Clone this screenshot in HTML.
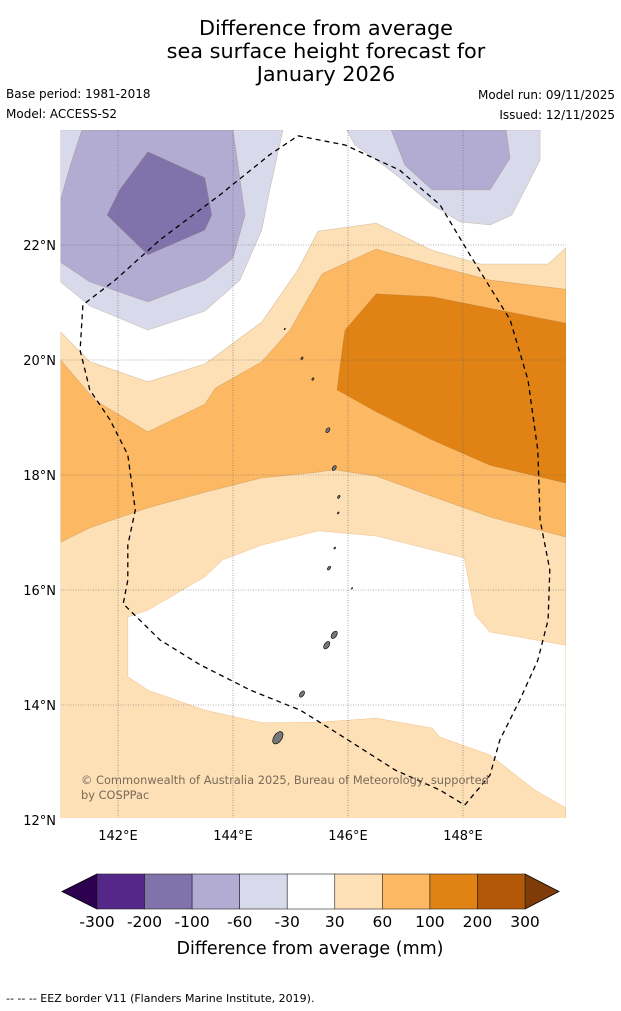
<!DOCTYPE html>
<html><head><meta charset="utf-8"><style>
body{margin:0;background:#fff;font-family:"DejaVu Sans",sans-serif;}
svg{display:block}
</style></head><body>
<svg width="621" height="1011" viewBox="0 0 621 1011" font-family="DejaVu Sans, sans-serif">
<g font-size="20.8" text-anchor="middle" fill="#000">
<text x="326" y="35">Difference from average</text>
<text x="326" y="58">sea surface height forecast for</text>
<text x="326" y="81">January 2026</text>
</g>
<g font-size="12" fill="#000">
<text x="6" y="98">Base period: 1981-2018</text>
<text x="6" y="118">Model: ACCESS-S2</text>
<text x="615" y="99" text-anchor="end">Model run: 09/11/2025</text>
<text x="615" y="119" text-anchor="end">Issued: 12/11/2025</text>
</g>
<defs><clipPath id="mapclip"><rect x="60.5" y="130" width="505.5" height="688"/></clipPath></defs>
<g id="map" clip-path="url(#mapclip)"></g>
<g id="axes"></g>
<g id="cbar"></g>
<text x="310" y="954" font-size="17.5" text-anchor="middle">Difference from average (mm)</text>
<text x="6" y="1002" font-size="11">--  --  -- EEZ border V11 (Flanders Marine Institute, 2019).</text>
</svg>
<script>
const lonTicks=[142,144,146,148];
const latTicks=[12,14,16,18,20,22];
const cbLevels=[-300,-200,-100,-60,-30,30,60,100,200,300];
const cbColors=['#542788','#8073ac','#b2abd2','#d8daeb','#ffffff','#fee0b6','#fdb863','#e08214','#b35806'];
const cbExtLow='#2d0050', cbExtHigh='#7f3b08';
const lonMin=141, lonMax=149.79, latMin=12, latMax=24;
const X=lon=>60.5+(lon-lonMin)*57.5;
const Y=lat=>130+(latMax-lat)*57.5;
const orange30=[[141,20.49],[141.51,19.97],[142.52,19.62],[143.51,19.93],[144.5,20.66],[145.13,21.57],[145.48,22.24],[146.49,22.38],[147.46,21.91],[148.3,21.67],[149.48,21.67],[149.79,21.95],[149.79,12],[141,12]];
const whiteIsland=[[142.17,15.53],[142.52,15.65],[143.51,16.23],[143.81,16.52],[144.5,16.78],[145.48,17.03],[146.49,16.94],[148.02,16.56],[148.21,15.57],[148.47,15.27],[149.79,15.04],[149.79,12.21],[149.25,12.52],[148.47,13.13],[147.6,13.44],[147.46,13.6],[146.49,13.77],[145.48,13.7],[144.5,13.69],[143.51,13.91],[142.52,14.26],[142.17,14.49]];
const orange60=[[141,20],[141.6,19.3],[142.52,18.75],[143.51,19.23],[143.69,19.51],[144.5,19.97],[144.99,20.52],[145.55,21.5],[146.49,21.93],[147.46,21.65],[148.47,21.39],[149.79,21.23],[149.79,16.92],[148.47,17.27],[147.46,17.63],[146.49,17.98],[145.76,18.09],[145.48,18.05],[144.5,17.95],[143.51,17.7],[142.52,17.43],[141.51,17.08],[141,16.83]];
const orange100=[[145.95,20.52],[146.49,21.15],[147.46,21.1],[148.47,20.9],[149.79,20.64],[149.79,17.86],[148.47,18.17],[147.46,18.61],[146.49,19.1],[145.81,19.48],[145.91,20.26]];
const purple30a=[[141,24],[144.87,24],[144.64,22.96],[144.5,22.26],[144.12,21.39],[143.51,20.85],[142.52,20.52],[141.51,20.94],[141,21.36]];
const purple30b=[[145.98,24],[149.34,24],[149.34,23.48],[148.85,22.52],[148.47,22.35],[147.95,22.4],[147.46,22.7],[146.9,23.17],[146.49,23.48],[146.12,23.74]];
const purple60a=[[141.37,24],[144,24],[144.21,22.52],[144,21.77],[143.51,21.39],[142.52,21.01],[141.51,21.36],[141,21.7],[141,22.78],[141.17,23.39]];
const purple60b=[[146.75,24],[148.75,24],[148.82,23.51],[148.47,22.96],[147.46,22.96],[146.99,23.39]];
const purple100=[[142.52,23.62],[143.51,23.17],[143.63,22.52],[143.51,22.26],[142.52,21.83],[141.81,22.52],[142.03,22.96]];
const eez=[[145.13,23.9],[145.95,23.74],[146.9,23.3],[147.6,22.7],[148.12,21.83],[148.82,20.7],[149.13,19.65],[149.3,18.43],[149.34,17.22],[149.51,16.35],[149.48,15.48],[149.3,14.78],[148.99,14.09],[148.64,13.39],[148.47,12.78],[148.03,12.26],[147.6,12.52],[146.82,12.87],[145.86,13.48],[145.17,13.91],[144.3,14.26],[143.43,14.7],[142.73,15.13],[142.09,15.76],[142.17,16.17],[142.17,16.78],[142.3,17.39],[142.17,18.35],[141.86,18.96],[141.51,19.48],[141.34,20.17],[141.39,20.96],[141.95,21.39],[142.73,22.09],[143.77,22.87],[144.64,23.57],[145.13,23.9]];
const islandLon=[144.78,145.2,145.63,145.76,145.2,145.39,145.65,145.76,145.84,145.83,145.77,145.67,146.07,144.9];
const islandLat=[13.43,14.19,15.04,15.22,20.03,19.67,18.78,18.12,17.62,17.34,16.73,16.38,16.03,20.54];
const islandR=[5,2.5,3,3,1,1,2,2,1.2,0.8,0.8,1.5,0.6,0.6];
const NS='http://www.w3.org/2000/svg';
function mk(tag,attrs,parent){const e=document.createElementNS(NS,tag);for(const k in attrs)e.setAttribute(k,attrs[k]);parent.appendChild(e);return e;}
const map=document.getElementById('map');
mk('rect',{x:60.5,y:130,width:505.5,height:688,fill:'#fff'},map);
function poly(pts,fill,name){const p=mk('polygon',{points:pts.map(q=>X(q[0]).toFixed(1)+','+Y(q[1]).toFixed(1)).join(' '),fill:fill,stroke:fill==='#ffffff'?'#f3c89a':'rgba(150,110,60,0.35)','stroke-width':0.6},map);

}
poly(orange30,'#fee0b6','contour-30-60');
poly(whiteIsland,'#ffffff','contour-neutral');
poly(orange60,'#fdb863','contour-60-100');
poly(orange100,'#e08214','contour-100-200');
poly(purple30a,'#d8daeb','contour-neg30-a');
poly(purple30b,'#d8daeb','contour-neg30-b');
poly(purple60a,'#b2abd2','contour-neg60-a');
poly(purple60b,'#b2abd2','contour-neg60-b');
poly(purple100,'#8073ac','contour-neg100');
lonTicks.forEach(l=>{const g=mk('line',{x1:X(l),x2:X(l),y1:130,y2:818,stroke:'#666','stroke-width':0.6,'stroke-dasharray':'1,1.5'},map);

});
latTicks.forEach(l=>{const g=mk('line',{x1:60.5,x2:566,y1:Y(l),y2:Y(l),stroke:'#666','stroke-width':0.6,'stroke-dasharray':'1,1.5'},map);

});
islandLon.forEach((lo,i)=>{const e=mk('ellipse',{cx:X(lo),cy:Y(islandLat[i]),rx:islandR[i]*0.8,ry:islandR[i]*1.4,fill:'#777',stroke:'#000','stroke-width':0.6,transform:`rotate(35 ${X(lo)} ${Y(islandLat[i])})`},map);

});
const ez=mk('polyline',{points:eez.map(q=>X(q[0]).toFixed(1)+','+Y(q[1]).toFixed(1)).join(' '),fill:'none',stroke:'#000','stroke-width':1.3,'stroke-dasharray':'5,4'},map);


const cr=mk('text',{x:81,y:784,'font-size':11.4,fill:'#7a6a5a'},map);cr.textContent='© Commonwealth of Australia 2025, Bureau of Meteorology, supported';


const cr2=mk('text',{x:81,y:799,'font-size':11.4,fill:'#7a6a5a'},map);cr2.textContent='by COSPPac';


const axes=document.getElementById('axes');
lonTicks.forEach(l=>{const t=mk('text',{x:X(l),y:840,'font-size':13,'text-anchor':'middle'},axes);t.textContent=l+'°E';

});
latTicks.forEach(l=>{const t=mk('text',{x:56,y:Y(l)+5,'font-size':13,'text-anchor':'end'},axes);t.textContent=l+'°N';

});
const cb=document.getElementById('cbar');
const cbx0=97,cbx1=525,cby=874,cbh=35,bw=(cbx1-cbx0)/cbColors.length;
const lt=mk('polygon',{points:`${cbx0},${cby} ${cbx0},${cby+cbh} 62,${cby+cbh/2}`,fill:cbExtLow,stroke:'#000','stroke-width':0.8},cb);


const rt=mk('polygon',{points:`${cbx1},${cby} ${cbx1},${cby+cbh} 559,${cby+cbh/2}`,fill:cbExtHigh,stroke:'#000','stroke-width':0.8},cb);


cbColors.forEach((c,i)=>{const r=mk('rect',{x:cbx0+i*bw,y:cby,width:bw,height:cbh,fill:c,stroke:'#222','stroke-width':0.6},cb);

});
cbLevels.forEach((v,i)=>{const t=mk('text',{x:cbx0+i*bw,y:927,'font-size':15.5,'text-anchor':'middle'},cb);t.textContent=v;

});
</script>
</body></html>
